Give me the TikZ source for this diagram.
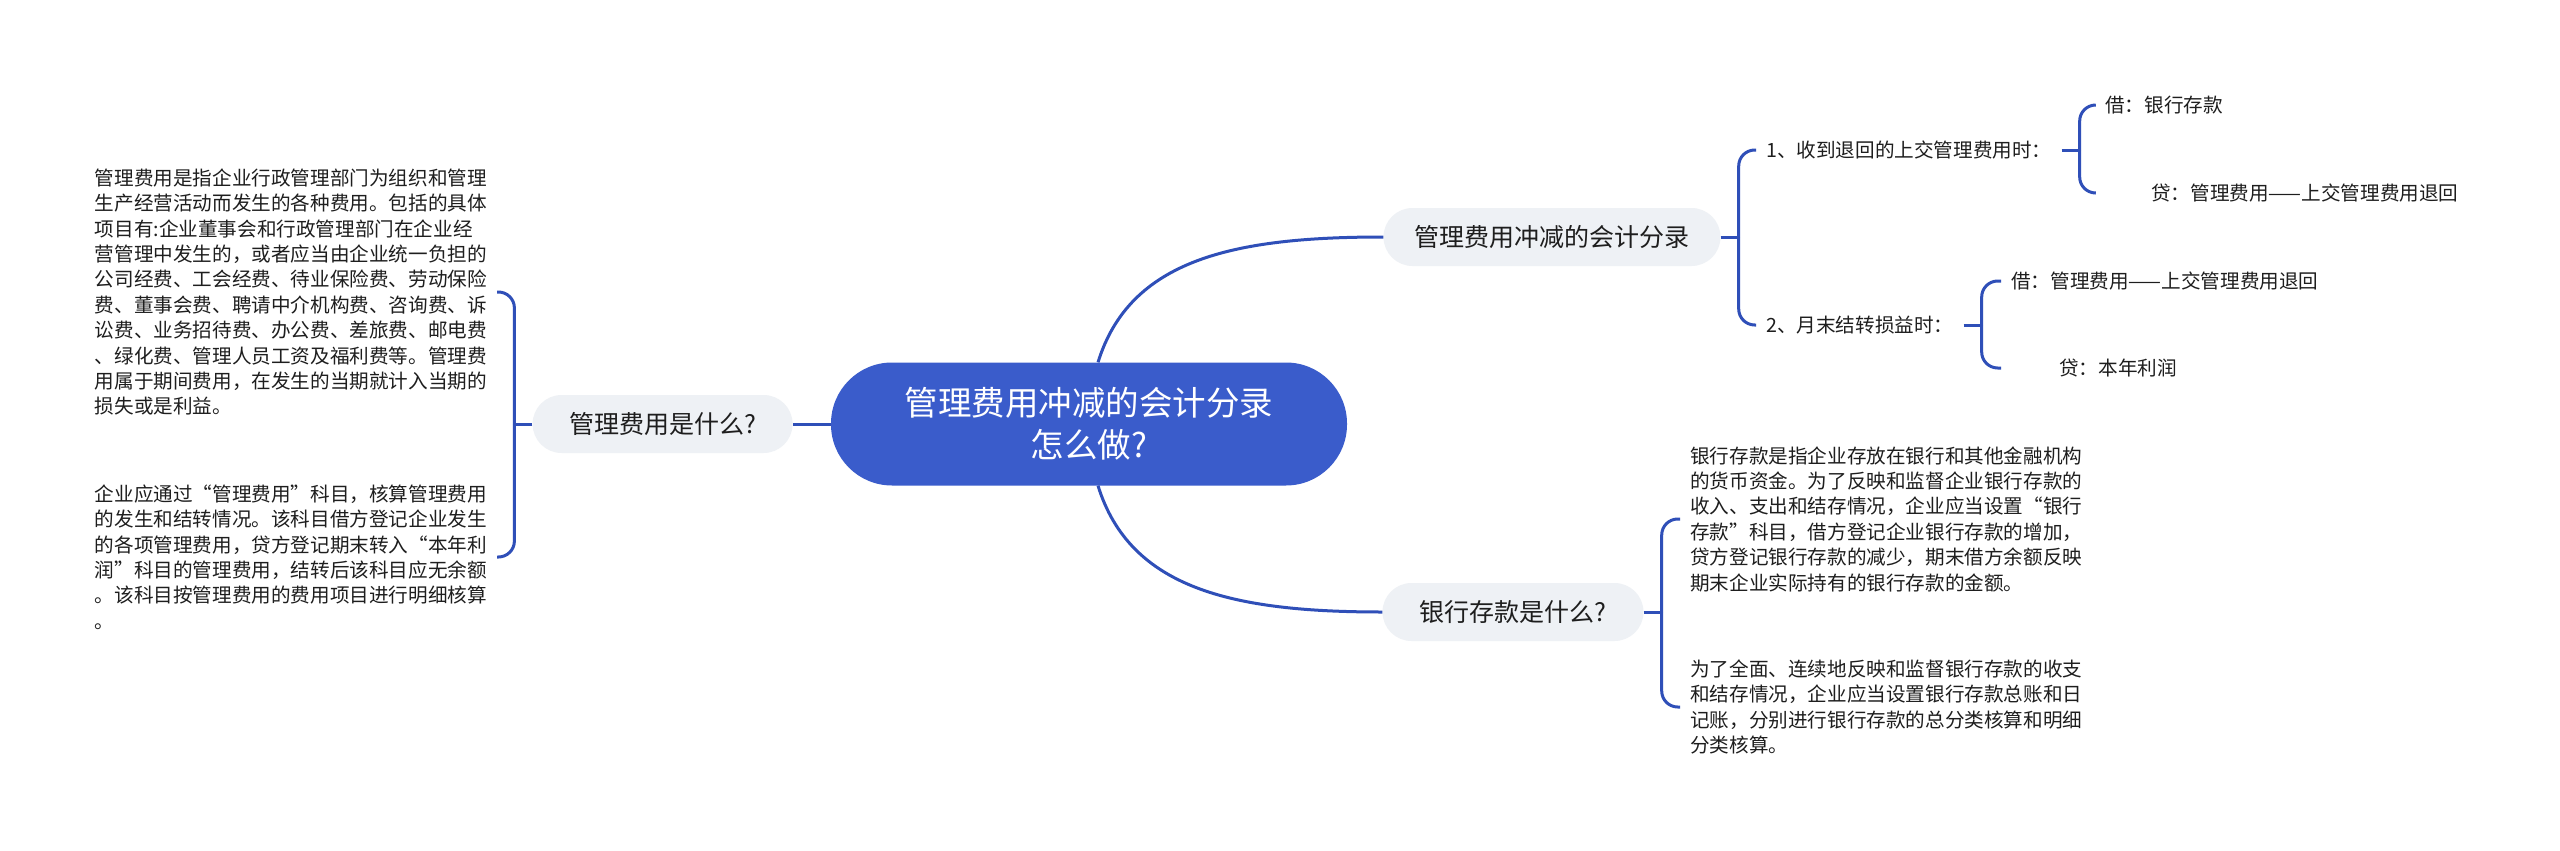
\documentclass[tikz,border=0pt]{standalone}
\usepackage{fontspec}
\setmainfont{Noto Sans CJK SC}
\usepackage{xcolor}
\usepackage{tikz}
\usetikzlibrary{positioning}

\definecolor{rootblue}{HTML}{3A5CCB}
\definecolor{linkblue}{HTML}{2F4FB8}
\definecolor{pillgray}{HTML}{EEF1F5}
\definecolor{inkgray}{HTML}{1E1E1E}

\tikzset{
  rootnode/.style={fill=rootblue, text=white, rounded corners=61pt, minimum width=516pt, minimum height=123pt, align=center, font=\fontsize{33.5}{42}\selectfont},
  topic/.style={fill=pillgray, text=inkgray, rounded corners=29pt, minimum height=58pt, font=\fontsize{25}{30}\selectfont},
  leaf/.style={text=inkgray, align=left, inner xsep=10pt, inner ysep=3pt, font=\fontsize{19.6}{25.4}\selectfont},
  branch/.style={draw=linkblue, line width=3pt},
  hook/.style={branch, rounded corners=16pt},
}

\begin{document}
\begin{tikzpicture}[x=1pt, y=-1pt]
    \fill[white] (0,0) rectangle (2560,851);
    \useasboundingbox (0,0) rectangle (2560,851);
    % centre and the three topics
    \node[rootnode] (root) at (1089,424) {管理费用冲减的会计分录\\怎么做?};
    \node[topic, minimum width=260pt, left=38pt of root] (fee) {管理费用是什么?};
    \node[topic, minimum width=337pt] (entry) at (1552,237) {管理费用冲减的会计分录};
    \node[topic, minimum width=261pt] (bank) at (1513,612) {银行存款是什么?};
    % left texts
    \node[leaf, anchor=east] (feedef) at (497,292) {管理费用是指企业行政管理部门为组织和管理\\
      生产经营活动而发生的各种费用。包括的具体\\
      项目有:企业董事会和行政管理部门在企业经\\
      营管理中发生的，或者应当由企业统一负担的\\
      公司经费、工会经费、待业保险费、劳动保险\\
      费、董事会费、聘请中介机构费、咨询费、诉\\
      讼费、业务招待费、办公费、差旅费、邮电费\\
      、绿化费、管理人员工资及福利费等。管理费\\
      用属于期间费用，在发生的当期就计入当期的\\
      损失或是利益。};
    \node[leaf, anchor=east] (feeacct) at (497,557) {企业应通过“管理费用”科目，核算管理费用\\
      的发生和结转情况。该科目借方登记企业发生\\
      的各项管理费用，贷方登记期末转入“本年利\\
      润”科目的管理费用，结转后该科目应无余额\\
      。该科目按管理费用的费用项目进行明细核算\\
      。};
    % entries
    \node[leaf, anchor=west] (refund) at (1756,150) {1、收到退回的上交管理费用时：};
    \node[leaf, anchor=west] (monthend) at (1756,325) {2、月末结转损益时：};
    \node[leaf, anchor=west] (dr1) at (2095,105) {借：银行存款};
    \node[leaf, anchor=west] (cr1) at (2095,193) {\hspace*{2.35em}贷：管理费用——上交管理费用退回};
    \node[leaf, anchor=west] (dr2) at (2001,281) {借：管理费用——上交管理费用退回};
    \node[leaf, anchor=west] (cr2) at (2001,368) {\hspace*{2.45em}贷：本年利润};
    % bank texts
    \node[leaf, anchor=west] (bankdef) at (1680,519) {银行存款是指企业存放在银行和其他金融机构\\
      的货币资金。为了反映和监督企业银行存款的\\
      收入、支出和结存情况，企业应当设置“银行\\
      存款”科目，借方登记企业银行存款的增加，\\
      贷方登记银行存款的减少，期末借方余额反映\\
      期末企业实际持有的银行存款的金额。};
    \node[leaf, anchor=west] (bankbook) at (1680,707) {为了全面、连续地反映和监督银行存款的收支\\
      和结存情况，企业应当设置银行存款总账和日\\
      记账，分别进行银行存款的总分类核算和明细\\
      分类核算。};
    % links from the centre
    \draw[branch] (root.west) -- (fee.east);
    \draw[branch] ([xshift=9pt]root.north) .. controls +(32,-103) and +(-150,0) .. (entry.west);
    \draw[branch] ([xshift=9pt]root.south) .. controls +(32,103) and +(-150,0) .. (bank.west);
    % brackets
    \draw[branch] (fee.west) -- ++(-18,0) coordinate (feefork);
    \draw[hook] (feefork) |- (feedef.east);
    \draw[hook] (feefork) |- (feeacct.east);
    \draw[branch] (entry.east) -- ++(18,0) coordinate (entryfork);
    \draw[hook] (entryfork) |- (refund.west);
    \draw[hook] (entryfork) |- (monthend.west);
    \draw[branch] (refund.east) -- ++(18,0) coordinate (refundfork);
    \draw[hook] (refundfork) |- (dr1.west);
    \draw[hook] (refundfork) |- (cr1.west);
    \draw[branch] (monthend.east) -- ++(18,0) coordinate (monthfork);
    \draw[hook] (monthfork) |- (dr2.west);
    \draw[hook] (monthfork) |- (cr2.west);
    \draw[branch] (bank.east) -- ++(18,0) coordinate (bankfork);
    \draw[hook] (bankfork) |- (bankdef.west);
    \draw[hook] (bankfork) |- (bankbook.west);
\end{tikzpicture}
\end{document}
